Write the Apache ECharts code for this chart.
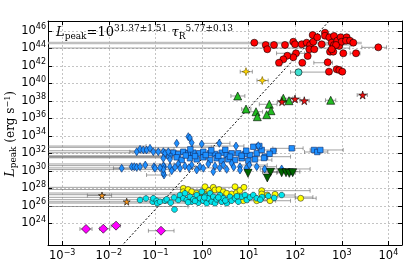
<!DOCTYPE html>
<html><head><meta charset="utf-8">
<script src="https://cdn.jsdelivr.net/npm/echarts@6/dist/echarts.min.js"></script>
<style>html,body{margin:0;padding:0;background:#fff}#c{width:407px;height:267px}</style>
</head><body><div id="c"></div>
<script>
// axis ticks (log10 values)
const xTicks = [-3,-2,-1,0,1,2,3,4];
const yTicks = [24,26,28,30,32,34,36,38,40,42,44,46];
const xRange = [-3.305, 4.292];
const yRange = [21.52, 47.12];
// fit: log L = a + b log tau
const fitIntercept = 31.37, fitSlope = 5.77;

// [log10 tau_R, log10 L_peak]
const redCircles = [[1.122,44.64],[1.367,44.38],[1.401,43.89],[1.545,44.38],[1.781,44.38],[1.959,44.75],[1.996,44.46],[2.139,44.46],[2.247,44.64],[2.318,44.38],[2.375,45.52],[2.388,44.75],[2.474,45.26],[2.569,44.46],[2.639,45.78],[2.639,45.44],[2.732,45.26],[2.833,45.41],[2.783,44.64],[2.833,44.38],[2.903,44.87],[2.946,44.26],[2.976,45.26],[2.998,44.75],[3.105,45.26],[3.090,44.87],[3.176,44.87],[3.247,44.64],[2.876,44.38],[2.303,43.89],[2.410,43.89],[2.747,43.61],[2.818,43.61],[2.783,43.89],[3.032,43.43],[3.305,43.43],[3.783,44.11],[2.017,43.43],[1.959,42.97],[1.830,43.15],[1.745,42.74],[1.652,42.35],[2.268,43.12],[2.152,42.35],[2.697,42.40],[2.725,41.33],[2.891,41.60],[2.946,41.52],[3.011,41.33]];
const redStars = [[1.717,37.90],[1.996,38.21],[2.195,38.01],[3.448,38.66]];
const greenTriangles = [[0.766,38.55],[0.944,37.06],[1.159,36.75],[1.187,36.18],[1.444,37.60],[1.481,36.87],[1.388,36.41],[1.745,38.29],[1.867,38.01],[2.762,38.06]];
const darkGreenTriangles = [[0.987,29.71],[1.470,29.83],[1.401,29.18],[1.710,29.78],[1.803,29.78],[1.873,29.71],[1.946,29.78]];
const goldStars = [[0.944,41.33],[1.294,40.32]];
const turquoise = [[2.071,41.26]];
const blueSquares = [[-0.616,32.07],[-0.509,31.92],[-0.401,32.18],[-0.294,32.00],[-0.187,32.07],[-0.058,32.00],[0.028,32.18],[0.172,32.00],[0.279,31.92],[0.423,32.07],[0.530,31.81],[0.637,32.00],[0.779,32.00],[0.923,31.92],[1.030,31.81],[1.174,32.00],[1.352,31.61],[-0.543,31.54],[-0.436,31.23],[-0.258,31.43],[-0.114,31.31],[0.028,31.54],[0.172,31.23],[0.315,31.43],[0.423,31.15],[0.564,31.31],[0.708,31.23],[0.852,31.43],[0.994,31.15],[1.137,31.31],[1.281,32.38],[1.530,32.26],[1.925,32.57],[2.403,32.38],[2.474,32.15],[2.539,32.38],[1.330,31.46],[1.903,29.90],[1.230,32.83],[1.101,32.75],[-0.35,31.75],[-0.15,31.68],[0.08,31.80],[0.35,31.70],[0.6,31.62],[0.85,31.72],[-0.7,31.70],[0.2,32.35],[0.5,32.40],[-0.25,32.45],[0.95,32.30],[1.45,31.95]];
const blueDiamonds = [[-1.401,32.18],[-1.330,32.46],[-1.260,32.38],[-1.187,32.38],[-1.116,32.57],[-1.045,32.18],[-0.938,32.18],[-0.830,32.18],[-0.794,32.00],[-0.723,32.18],[-0.830,31.43],[-0.687,31.31],[-0.294,33.90],[-0.26,33.75],[-0.543,33.14],[-0.221,33.21],[-0.006,33.06],[0.371,33.14],[0.730,32.83],[1.208,32.87],[-1.723,30.29],[-1.509,30.47],[-1.453,30.47],[-1.401,30.40],[-1.330,30.47],[-1.217,30.66],[-1.030,30.47],[-1.009,30.29],[-0.809,30.47],[-0.815,29.52],[-0.83,29.75],[-0.687,30.47],[-0.830,30.55],[-0.509,30.78],[-0.365,30.55],[-0.221,30.66],[-0.043,30.47],[0.135,30.78],[0.279,30.55],[0.457,30.66],[0.637,30.86],[0.815,30.47],[1.015,30.66],[1.174,30.47],[-0.830,30.17],[-0.650,30.01],[-0.472,30.29],[-0.114,30.09],[0.028,30.29],[0.242,29.90],[0.530,30.17],[0.815,30.09],[1.345,30.21],[1.710,30.21],[-0.58,30.40],[-0.28,30.35],[0.38,30.32],[0.68,30.42],[0.95,30.30],[-0.9,30.35]];
const yellowCircles = [[-0.401,28.00],[-0.401,27.61],[-0.300,27.86],[-0.221,27.61],[-0.114,27.43],[0.028,27.43],[0.064,28.18],[0.150,27.75],[0.242,28.11],[0.279,27.81],[0.365,27.86],[0.457,27.61],[0.530,27.43],[0.637,27.35],[0.708,28.18],[0.744,27.50],[0.815,27.75],[0.886,26.58],[0.901,28.11],[1.174,26.58],[1.281,27.73],[1.281,27.35],[1.401,27.23],[1.459,26.58],[1.567,27.31],[2.118,26.86]];
const cyanPoints = [[-1.330,26.66],[-1.202,26.84],[-1.058,26.47],[-1.045,26.86],[-0.972,26.58],[-0.959,26.29],[-0.901,26.47],[-0.794,26.58],[-0.758,26.74],[-0.672,26.35],[-0.590,25.58],[-0.509,26.66],[-0.472,27.23],[-0.401,26.86],[-0.365,27.43],[-0.328,26.66],[-0.258,27.04],[-0.221,26.47],[-0.187,26.74],[-0.114,27.23],[-0.079,26.35],[-0.043,26.86],[-0.006,27.61],[0.028,26.58],[0.064,27.12],[0.101,26.29],[0.135,26.86],[0.172,27.43],[0.208,26.47],[0.242,27.04],[0.279,26.29],[0.315,26.74],[0.386,27.23],[0.423,26.47],[0.457,26.86],[0.530,26.29],[0.601,27.04],[0.637,26.58],[0.708,26.86],[0.779,26.47],[0.852,27.04],[0.923,27.23],[0.959,26.66],[1.030,26.97],[1.101,27.23],[1.174,26.86],[1.288,27.0],[1.423,27.12],[1.710,27.23],[-0.6,26.95],[-0.15,26.55],[0.05,26.95],[0.35,26.95],[0.5,26.6],[0.75,27.1],[-0.3,26.4],[1.25,26.7],[1.55,26.9]];
const orangeStars = [[-2.146,27.18],[-1.616,26.47]];
const magentaDiamonds = [[-2.489,23.35],[-2.118,23.38],[-1.845,23.73],[-0.880,23.15]];

// horizontal error bars [log tau low, log L, log tau high]
const errBarsHigh = [[-5,44.03,3.17],[3.43,44.11,3.96],[2.6,44.38,3.2],[3.18,43.43,3.39],[1.6,43.43,2.2],[2.4,42.35,2.8],[1.9,41.28,2.70],[0.82,41.33,1.08],[1.18,40.32,1.42],[1.23,37.60,1.61],[0.62,38.55,0.92],[0.85,37.06,1.05],[1.7,38.29,1.95],[2.65,38.06,2.87],[1.0,36.75,1.3],[1.62,37.90,1.82],[1.9,38.21,2.1],[2.1,38.01,2.3],[3.33,38.66,3.55]];
const errBarsMid = [[-5,32.83,-1.2],[-5,32.68,0.2],[-5,32.29,-0.3],[-5,32.06,0.5],[-5,31.72,-0.64],[-5,31.64,-0.5],[-5,31.56,-0.7],[-5,31.48,0.1],[-5,30.78,-0.6],[-5,30.59,-0.9],[-5,30.33,0.3],[-5,30.14,-0.6],[-1.55,32.18,-1.2],[-1.0,32.46,-0.6],[-0.8,31.92,-0.2],[0.5,32.07,1.3],[1.0,31.61,1.9],[1.2,32.38,1.6],[1.52,32.57,2.17],[2.32,32.38,3.03],[2.2,32.15,2.7],[1.25,30.21,2.32],[1.3,29.90,2.1],[-1.19,29.52,-0.69],[-1.9,30.29,-1.5],[0.8,30.66,1.4],[0.6,31.23,1.5],[1.2,30.47,1.6],[-0.2,32.83,0.9],[0.0,33.14,0.6],[1.3,29.83,1.62],[1.6,29.78,2.0]];
const errBarsLow = [[-5,28.11,0.9],[-5,27.86,0.4],[-5,27.46,0.5],[-5,27.27,0.8],[-5,26.97,1.0],[-5,26.70,1.5],[-5,26.46,0.6],[-5,26.31,0.4],[-5,25.92,-0.3],[-2.46,27.18,-1.94],[1.25,27.73,2.32],[1.25,27.0,2.38],[2.0,26.86,2.45],[1.28,26.58,1.58],[1.0,26.58,1.9],[1.6,27.23,2.0],[-2.62,23.35,-2.36],[-2.2,23.38,-1.98],[-1.95,23.73,-1.75],[-1.15,23.15,-0.6]];
const errBarsBand = [[-5,44.60,3.43]];

const sup = v => (v < 0 ? '\u2212' + Math.abs(v) : '' + v);
const tickFont = 'DejaVu Sans';
const labelRich = {
  b: {fontFamily: tickFont, fontSize: 11.5, color: '#000', verticalAlign: 'middle'},
  s: {fontFamily: tickFont, fontSize: 8, color: '#000', verticalAlign: 'middle', padding: [0,0,7,0]}
};
const mathRich = {
  L: {fontFamily: 'DejaVu Serif', fontStyle: 'italic', fontSize: 13, fill: '#000', verticalAlign: 'middle'},
  sub: {fontFamily: 'DejaVu Serif', fontSize: 9, fill: '#000', verticalAlign: 'middle', padding: [7,0,0,0]},
  n: {fontFamily: 'DejaVu Serif', fontSize: 13, fill: '#000', verticalAlign: 'middle'},
  sup: {fontFamily: 'DejaVu Serif', fontSize: 9, fill: '#000', verticalAlign: 'middle', padding: [0,0,9,0]}
};
const nameRich = {
  L: {fontFamily: 'DejaVu Serif', fontStyle: 'italic', fontSize: 13, fill: '#000', verticalAlign: 'middle'},
  sub: {fontFamily: 'DejaVu Serif', fontSize: 9, fill: '#000', verticalAlign: 'middle', padding: [6,0,0,0]},
  n: {fontFamily: 'DejaVu Serif', fontSize: 12, fill: '#000', verticalAlign: 'middle'},
  sup: {fontFamily: 'DejaVu Serif', fontSize: 8, fill: '#000', verticalAlign: 'middle', padding: [0,0,7,0]}
};

function errSeries(bars, color, width, z, caps) {
  return {
    type: 'custom', data: bars, z: z, silent: true, clip: true,
    encode: {x: [0, 2], y: 1},
    renderItem: function (params, api) {
      const lo0 = api.value(0), hi0 = api.value(2), y = api.value(1);
      const lo = Math.max(lo0, xRange[0]), hi = Math.min(hi0, xRange[1]);
      const a = api.coord([lo, y]), b = api.coord([hi, y]);
      const ch = [{type: 'line', shape: {x1: a[0], y1: a[1], x2: b[0], y2: b[1]}, style: {stroke: color, lineWidth: width}}];
      if (caps) {
        if (lo0 > xRange[0]) ch.push({type: 'line', shape: {x1: a[0], y1: a[1] - 2, x2: a[0], y2: a[1] + 2}, style: {stroke: color, lineWidth: 1}});
        if (hi0 < xRange[1]) ch.push({type: 'line', shape: {x1: b[0], y1: b[1] - 2, x2: b[0], y2: b[1] + 2}, style: {stroke: color, lineWidth: 1}});
      }
      return {type: 'group', children: ch};
    }
  };
}
function sc(data, symbol, size, color, edge, z, rotate) {
  return {type: 'scatter', data: data, symbol: symbol, symbolSize: size, symbolRotate: rotate || 0, z: z,
    itemStyle: {color: color, borderColor: edge, borderWidth: 0.6, opacity: 1}, silent: true};
}
const star5 = 'path://M50,0 L61,35 L98,35 L68,57 L79,91 L50,70 L21,91 L32,57 L2,35 L39,35 Z';
const star4 = 'path://M50,0 L63,37 L100,50 L63,63 L50,100 L37,63 L0,50 L37,37 Z';
const octagon = 'path://M30,0 L70,0 L100,30 L100,70 L70,100 L30,100 L0,70 L0,30 Z';

const fitLine = [[-2.2, fitIntercept + fitSlope * -2.2], [3.2, fitIntercept + fitSlope * 3.2]];

const chart = echarts.init(document.getElementById('c'), null, {renderer: 'canvas'});
const axisLineStyle = {color: '#000', width: 1};
chart.setOption({
  animation: false,
  backgroundColor: '#fff',
  grid: {left: 48, right: 5, top: 21, bottom: 22, containLabel: false, outerBoundsMode: 'none'},
  xAxis: [{
    type: 'value', min: xRange[0], max: xRange[1], position: 'bottom',
    axisLine: {show: true, onZero: false, lineStyle: axisLineStyle},
    axisTick: {show: true, inside: true, length: 4, customValues: xTicks, lineStyle: {color: '#000'}},
    axisLabel: {customValues: xTicks, margin: 4, formatter: v => '{b|10}{s|' + sup(v) + '}', rich: labelRich},
    splitLine: {show: true, lineStyle: {color: '#c4c4c4', type: [2, 2], width: 1}}
  }, {
    type: 'value', min: xRange[0], max: xRange[1], position: 'top',
    axisLine: {show: true, onZero: false, lineStyle: axisLineStyle},
    axisTick: {show: true, inside: true, length: 4, customValues: xTicks, lineStyle: {color: '#000'}},
    axisLabel: {show: false}, splitLine: {show: false}
  }],
  yAxis: [{
    type: 'value', min: yRange[0], max: yRange[1], position: 'left',
    axisLine: {show: true, onZero: false, lineStyle: axisLineStyle},
    axisTick: {show: true, inside: true, length: 4, customValues: yTicks, lineStyle: {color: '#000'}},
    axisLabel: {customValues: yTicks, margin: 2, formatter: v => '{b|10}{s|' + sup(v) + '}', rich: labelRich},
    splitLine: {show: true, lineStyle: {color: '#c4c4c4', type: [2, 2], width: 1}}
  }, {
    type: 'value', min: yRange[0], max: yRange[1], position: 'right',
    axisLine: {show: true, onZero: false, lineStyle: axisLineStyle},
    axisTick: {show: true, inside: true, length: 4, customValues: yTicks, lineStyle: {color: '#000'}},
    axisLabel: {show: false}, splitLine: {show: false}
  }],
  graphic: [{
    type: 'text', left: 56, top: 24, z: 100,
    style: {
      text: '{L|L}{sub|peak}{n|=10}{sup|31.37\u00b11.51}{n| }{L|\u03c4}{sub|R}{sup|5.77\u00b10.13}',
      rich: mathRich
    }
  }, {
    type: 'text', x: 11, y: 134, rotation: Math.PI / 2, z: 100,
    style: {
      text: '{L|L}{sub|peak}{n| (erg s}{sup|\u22121}{n|)}',
      align: 'center', verticalAlign: 'middle',
      rich: nameRich
    }
  }],
  series: [
    errSeries(errBarsBand, 'rgba(175,175,175,0.8)', 2.5, 1, false),
    errSeries(errBarsHigh, 'rgba(110,110,110,0.65)', 1, 2, true),
    errSeries(errBarsMid, 'rgba(100,100,100,0.6)', 1, 2, true),
    errSeries(errBarsLow, 'rgba(100,100,100,0.6)', 1, 2, true),
    {type: 'line', data: fitLine, showSymbol: false, symbol: 'none', z: 3, clip: true, silent: true,
      lineStyle: {color: '#000', width: 1, type: [2, 2]}},
    sc(yellowCircles, 'circle', 6, '#ffff00', '#333', 4),
    sc(cyanPoints, octagon, 5.5, '#00e5ee', '#1a3030', 5),
    sc(blueSquares, 'rect', 5.5, '#1e90ff', '#0b2a66', 6),
    sc(blueDiamonds, 'diamond', [5, 8], '#1e90ff', '#0b2a66', 6),
    sc(darkGreenTriangles, 'triangle', 8, '#006400', '#000', 7, 180),
    sc(greenTriangles, 'triangle', 8, '#22bb22', '#000', 7),
    sc(redStars, star5, 8, '#ee1111', '#000', 7),
    sc(redCircles, 'circle', 7, '#ff0000', '#000', 8),
    sc(goldStars, star4, 8, '#ffd700', '#6b5500', 8),
    sc(turquoise, 'circle', 7, '#40e0d0', '#000', 8),
    sc(orangeStars, star5, 7, '#ff9a1f', '#000', 8),
    sc(magentaDiamonds, 'diamond', 9, '#ff00ff', '#000', 8)
  ]
});
</script>
</body></html>
